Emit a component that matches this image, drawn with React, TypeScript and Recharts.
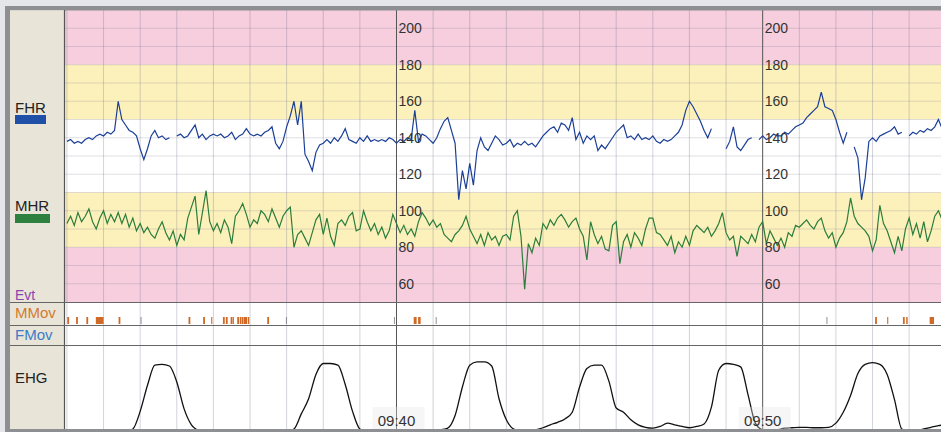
import React from 'react';
import { ComposedChart, Line, XAxis, YAxis, ReferenceArea, ReferenceLine, Scatter } from 'recharts';

// ---------- data ----------
const T0 = 31.0; // minutes after 09:00
const STEP = 0.1;
const EHG_STEP = 0.2;
const X_DOMAIN: [number, number] = [30.92, 54.87];

const fhr: (number | null)[] = [
  138, 139, 137, 138, 137, 139, 140, 139, 141, 142, 141, 143, 142, 144, 160, 150, 147, 144, 143, 141,
  134, 128, 134, 141, 144, 140, 141, 139, 140, null, 141, 142, 140, 141, 144, 147, 140, 142, 139, 141,
  142, 141, 142, 140, 141, 143, 139, 141, 142, 145, 142, 141, 142, 141, 143, 144, 146, 137, 134, 138,
  146, 152, 160, 147, 160, 131, 127, 122, 132, 136, 137, 139, 137, 140, 138, 141, 145, 139, 138, 137,
  140, 138, 141, 138, 139, 138, 139, 138, 140, 139, 137, 139, 138, 140, 139, 155, 138, 142, 141, 139,
  137, 140, 145, 149, 151, 144, 137, 106, 122, 112, 126, 114, 133, 140, 135, 133, 137, 141, 139, 136,
  137, 139, 135, 137, 136, 138, 136, 137, 135, 138, 141, 143, 145, 146, 143, 148, 147, 144, 151, 139,
  143, 137, 141, 139, 141, 133, 136, 134, 137, 140, 143, 145, 147, 140, 141, 139, 142, 139, 140, 139,
  141, 138, 137, 139, 138, 139, 141, 143, 147, 155, 160, 157, 153, 149, 144, 140, 145, null, null, null,
  134, 138, 146, 135, 133, 136, 139, 140, null, 139, 141, 139, 140, 142, 141, 141, 143, 142, 144, 146,
  147, 148, 151, 153, 155, 157, 165, 157, 156, 155, 150, 143, 137, 143, null, 135, 129, 106, 118, 138,
  140, 138, 141, 142, 143, 144, 146, 142, 143, null, 141, 143, 142, 144, 143, 145, 144, 146, 150, 145,
];

const mhr: number[] = [
  93, 97, 92, 99, 94, 97, 101, 94, 90, 96, 100, 93, 98, 94, 99, 93, 98, 91, 96, 89,
  93, 88, 91, 87, 85, 90, 94, 88, 84, 89, 81, 87, 84, 96, 102, 108, 87, 99, 111, 94,
  89, 93, 88, 95, 91, 82, 97, 100, 104, 98, 91, 95, 93, 100, 98, 94, 101, 96, 91, 97,
  100, 102, 80, 87, 89, 85, 81, 88, 95, 98, 87, 96, 86, 81, 93, 95, 92, 97, 99, 89,
  90, 100, 94, 89, 93, 87, 91, 85, 89, 98, 93, 88, 92, 87, 90, 86, 94, 99, 96, 92,
  95, 91, 93, 87, 85, 83, 87, 89, 92, 97, 90, 86, 82, 87, 81, 88, 84, 86, 81, 86,
  87, 84, 97, 100, 86, 57, 82, 77, 85, 81, 93, 90, 95, 92, 96, 98, 95, 91, 94, 96,
  90, 86, 73, 94, 87, 82, 86, 79, 78, 92, 94, 71, 83, 87, 80, 88, 85, 81, 90, 96,
  96, 88, 87, 84, 81, 86, 77, 83, 80, 86, 81, 89, 92, 90, 88, 91, 86, 89, 93, 99,
  88, 84, 86, 75, 86, 84, 82, 87, 83, 91, 94, 82, 89, 85, 81, 85, 80, 88, 86, 92,
  91, 93, 95, 92, 90, 94, 96, 89, 85, 88, 80, 85, 88, 94, 107, 97, 93, 91, 89, 86,
  78, 84, 103, 93, 89, 83, 77, 86, 78, 90, 96, 87, 93, 85, 94, 83, 89, 97, 100, 95,
];

const ehg: number[] = [
  -4, -4, -4, -4, -4, -4, -4, -4, -3, 0,
  21, 52, 76, 77, 75, 56, 24, 5, -2, -4,
  -4, -4, -4, -4, -4, -4, -4, -4, -4, -4,
  -3, 0, 18, 36, 65, 78, 78, 76, 53, 21,
  0, -3, -4, -4, -4, -4, -4, -4, -4, -4,
  -3, -1, 1, 16, 50, 76, 80, 80, 75, 36,
  11, 0, -2, -2, -1, 1.5, 5, 8, 12, 20,
  50, 72, 76, 76, 57, 25, 20, 11, 5, 2,
  1, 3, 7, 5, 3, 1.5, 3, 6, 26, 70,
  78, 77, 74, 41, 7, -1, -2, -1, 1, 1.5,
  2, 2, 1.5, 1.5, 2, 7, 20, 40, 66, 77,
  79, 77, 65, 35, 0, -2, -2, 0, 2, 4,
  5,
];

const minuteTicks = [31, 32, 33, 34, 35, 36, 37, 38, 39, 41, 42, 43, 44, 45, 46, 47, 48, 49, 51, 52, 53, 54];
const majorTicks = [40, 50];
const bpmGrid = [60, 70, 80, 90, 100, 110, 120, 130, 140, 150, 160, 170, 180, 190, 200];
const bpmLabels = [200, 180, 160, 140, 120, 100, 80, 60];
const bandEdges = [210, 180, 150, 110, 80, 50];
const timeLabels = ['09:40', '09:50'];

const mmovMarks: [number, number][] = [
  [31.01, 31.06], [31.25, 31.3], [31.53, 31.58], [31.79, 32.0], [32.41, 32.46],
  [34.32, 34.37], [34.72, 34.77], [34.94, 34.97], [35.26, 35.31], [35.34, 35.39],
  [35.47, 35.51], [35.52, 35.56], [35.65, 35.7], [35.72, 35.76], [35.77, 35.81],
  [35.82, 35.92], [35.94, 35.98], [36.47, 36.52], [40.47, 40.55], [40.59, 40.66],
  [53.07, 53.12], [53.4, 53.43], [53.83, 53.88], [53.92, 53.96], [54.56, 54.68],
];
const mmovFaint = [33.01, 36.98, 39.93, 41.07, 51.74];

// ---------- styles ----------
const PINK = '#f6cedd';
const YELLOW = '#fdf1bb';
const BAND_COLORS = [PINK, YELLOW, '#ffffff', YELLOW, PINK];
const GRID = 'rgba(110,110,140,0.22)';
const VGRID = 'rgba(110,110,140,0.3)';
const MAJOR = '#555555';
const FONT = '"Liberation Sans", Arial, sans-serif';
const CW = 877;
const CL = 64;

const traceRows = fhr.map((v, i) => ({ t: +(T0 + i * STEP).toFixed(2), fhr: v, mhr: mhr[i] }));
const ehgRows = ehg.map((v, i) => ({ t: +(T0 + i * EHG_STEP).toFixed(2), e: v }));
const labelPts = majorTicks.flatMap((m) => bpmLabels.map((b) => ({ t: m, v: b, text: String(b) })));
const timePts = majorTicks.map((m, i) => ({ t: m, e: 0, text: timeLabels[i] }));

const vGrid = () => [
  ...minuteTicks.map((m) => <ReferenceLine key={'m' + m} x={m} stroke={VGRID} strokeWidth={1} />),
  ...majorTicks.map((m) => <ReferenceLine key={'M' + m} x={m} stroke={MAJOR} strokeWidth={1} />),
];

const BpmLabel = (props: any) => {
  const { cx, cy, payload } = props;
  if (cx == null || cy == null) return null;
  return (
    <text x={cx + 2} y={cy} dominantBaseline="central" fontFamily={FONT} fontSize={14} fill="#333">
      {payload.text}
    </text>
  );
};

const TimeLabel = (props: any) => {
  const { cx, cy, payload } = props;
  if (cx == null || cy == null) return null;
  return (
    <g>
      <rect x={cx - 24} y={cy - 22} width={52} height={22} fill="rgba(228,228,228,0.35)" />
      <text x={cx} y={cy - 3} textAnchor="middle" fontFamily={FONT} fontSize={15} fill="#333">
        {payload.text}
      </text>
    </g>
  );
};

const M0 = { top: 0, right: 0, bottom: 0, left: 0 };

export default function App() {
  return (
    <div style={{ position: 'absolute', left: 0, top: 0, width: 941, height: 432, background: '#ffffff', overflow: 'hidden' }}>
      {/* FHR / MHR panel */}
      <div style={{ position: 'absolute', left: CL, top: 10, width: CW, height: 292 }}>
        <ComposedChart width={CW} height={292} data={traceRows} margin={M0}>
          <XAxis hide type="number" dataKey="t" domain={X_DOMAIN} allowDataOverflow />
          <YAxis hide type="number" domain={[50, 210]} allowDataOverflow />
          {BAND_COLORS.map((c, i) => (
            <ReferenceArea key={'b' + i} y1={bandEdges[i + 1]} y2={bandEdges[i]} fill={c} fillOpacity={1} stroke="none" ifOverflow="extendDomain" />
          ))}
          {bpmGrid.map((b) => (
            <ReferenceLine key={'h' + b} y={b} stroke={GRID} strokeWidth={1} />
          ))}
          {vGrid()}
          <Scatter data={labelPts} dataKey="v" shape={BpmLabel} isAnimationActive={false} />
          <Line dataKey="mhr" type="linear" stroke="#2a7d3c" strokeWidth={1.2} dot={false} isAnimationActive={false} connectNulls={false} />
          <Line dataKey="fhr" type="linear" stroke="#1b3f97" strokeWidth={1.2} dot={false} isAnimationActive={false} connectNulls={false} />
        </ComposedChart>
      </div>

      {/* MMov / FMov rows */}
      <div style={{ position: 'absolute', left: CL, top: 302, width: CW, height: 43 }}>
        <ComposedChart width={CW} height={43} data={[]} margin={M0}>
          <XAxis hide type="number" dataKey="t" domain={X_DOMAIN} allowDataOverflow />
          <YAxis hide type="number" domain={[0, 43]} allowDataOverflow />
          {vGrid()}
          {mmovFaint.map((m, i) => (
            <ReferenceArea key={'f' + i} x1={m} x2={m + 0.03} y1={21} y2={28} fill="#9a9a9a" fillOpacity={1} stroke="none" />
          ))}
          {mmovMarks.map((m, i) => (
            <ReferenceArea key={'o' + i} x1={m[0]} x2={m[1]} y1={21} y2={28} fill="#cf6a26" fillOpacity={1} stroke="none" />
          ))}
        </ComposedChart>
      </div>

      {/* EHG row */}
      <div style={{ position: 'absolute', left: CL, top: 345, width: CW, height: 84 }}>
        <ComposedChart width={CW} height={84} data={ehgRows} margin={M0}>
          <XAxis hide type="number" dataKey="t" domain={X_DOMAIN} allowDataOverflow />
          <YAxis hide type="number" domain={[0, 100]} allowDataOverflow />
          {vGrid()}
          <Scatter data={timePts} dataKey="e" shape={TimeLabel} isAnimationActive={false} />
          <Line dataKey="e" type="monotone" stroke="#111111" strokeWidth={1.3} dot={false} isAnimationActive={false} />
        </ComposedChart>
      </div>

      {/* frame, label column, separators */}
      <svg width={941} height={432} style={{ position: 'absolute', left: 0, top: 0, pointerEvents: 'none' }}>
        <rect x={0} y={0} width={941} height={6} fill="#e4e6e9" />
        <rect x={0} y={0} width={5} height={432} fill="#e4e6e9" />
        <rect x={5} y={6} width={936} height={4.5} fill="#8d8f92" />
        <rect x={5} y={6} width={5} height={426} fill="#8d8f92" />
        <rect x={5} y={429} width={936} height={3} fill="#8d8f92" />
        <rect x={10} y={10.5} width={54} height={418.5} fill="#e8e5d8" />
        <line x1={64.5} y1={10} x2={64.5} y2={429} stroke="#555" strokeWidth={1.2} />
        <line x1={10} y1={302.5} x2={941} y2={302.5} stroke="#666" strokeWidth={1.2} />
        <line x1={10} y1={325.5} x2={941} y2={325.5} stroke="#666" strokeWidth={1.2} />
        <line x1={10} y1={345.5} x2={941} y2={345.5} stroke="#666" strokeWidth={1.2} />
        <g fontFamily={FONT} fontSize={15}>
          <text x={15} y={112.5} fill="#222">FHR</text>
          <rect x={15} y={115} width={31} height={9} fill="#1f4fa6" />
          <text x={15} y={211} fill="#222">MHR</text>
          <rect x={15} y={214} width={35} height={9} fill="#2e8040" />
          <text x={15} y={300} fill="#8a45b0" fontSize={14}>Evt</text>
          <text x={15} y={318} fill="#d27a30">MMov</text>
          <text x={15} y={340} fill="#3a7cc8">FMov</text>
          <text x={15} y={383} fill="#222">EHG</text>
        </g>
      </svg>
    </div>
  );
}
